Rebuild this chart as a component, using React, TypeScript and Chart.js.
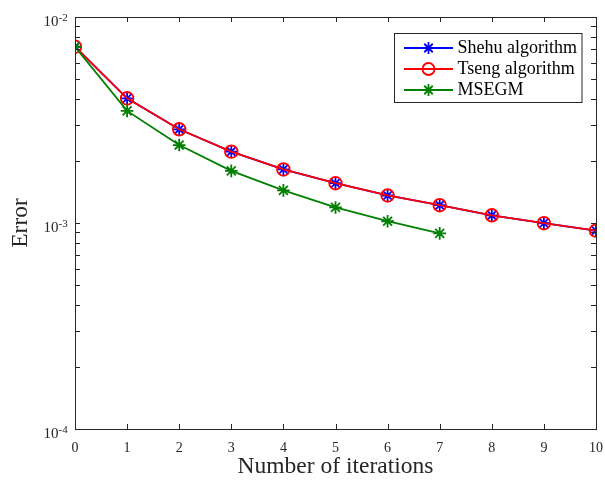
import React, { useEffect, useRef } from 'react';
import { Chart, registerables } from 'chart.js';

Chart.register(...registerables);

// ---- data ----
const iterations = [0, 1, 2, 3, 4, 5, 6, 7, 8, 9, 10];
const msegmIterations = [0, 1, 2, 3, 4, 5, 6, 7];
const shehuErrors = [0.00717, 0.00403, 0.00285, 0.00222, 0.00182, 0.00156, 0.00136, 0.00122, 0.00109, 0.000998, 0.000918];
const tsengErrors = [0.00717, 0.00403, 0.00285, 0.00222, 0.00182, 0.00156, 0.00136, 0.00122, 0.00109, 0.000998, 0.000918];
const msegmErrors = [0.00717, 0.0035, 0.00239, 0.00179, 0.00144, 0.00119, 0.00102, 0.000891];
const xTickValues = [0, 1, 2, 3, 4, 5, 6, 7, 8, 9, 10];
const yMajorExponents = [-2, -3, -4];
const seriesLabels = ['Shehu algorithm', 'Tseng algorithm', 'MSEGM'];
const seriesColors = ['#0000ff', '#ff0000', '#008000'];
const seriesMarkers = ['star', 'circle', 'star'];
const seriesOrder = [3, 2, 1];
const xTitle = 'Number of iterations';
const yTitle = 'Error';

const AXIS_COLOR = '#262626';
const FONT = '"Liberation Serif", "Times New Roman", serif';
const LINE_W = 1.8;

function drawMarker(ctx: CanvasRenderingContext2D, style: string, x: number, y: number, r: number, color: string) {
  ctx.save();
  ctx.strokeStyle = color;
  ctx.lineWidth = LINE_W;
  ctx.beginPath();
  if (style === 'circle') {
    ctx.arc(x, y, r, 0, Math.PI * 2);
  } else {
    ctx.moveTo(x, y - r); ctx.lineTo(x, y + r);
    ctx.moveTo(x - r, y); ctx.lineTo(x + r, y);
    const d = r * Math.SQRT1_2;
    ctx.moveTo(x - d, y - d); ctx.lineTo(x + d, y + d);
    ctx.moveTo(x - d, y + d); ctx.lineTo(x + d, y - d);
  }
  ctx.stroke();
  ctx.restore();
}

const framePlugin = {
  id: 'matlabFrame',
  afterDraw(chart: any) {
    const { ctx, chartArea, scales } = chart;
    const { left, right, top, bottom } = chartArea;
    const xs = scales.x;
    const ys = scales.y;
    ctx.save();
    ctx.strokeStyle = AXIS_COLOR;
    ctx.lineWidth = 1;
    ctx.strokeRect(Math.round(left) + 0.5, Math.round(top) + 0.5, Math.round(right - left), Math.round(bottom - top));
    const tl = 5;
    ctx.beginPath();
    for (const v of xTickValues) {
      const px = Math.round(xs.getPixelForValue(v)) + 0.5;
      ctx.moveTo(px, bottom); ctx.lineTo(px, bottom - tl);
      ctx.moveTo(px, top); ctx.lineTo(px, top + tl);
    }
    const minE = Math.min(...yMajorExponents);
    const maxE = Math.max(...yMajorExponents);
    for (let e = minE; e <= maxE; e++) {
      const kMax = e === maxE ? 1 : 9;
      for (let k = 1; k <= kMax; k++) {
        const py = Math.round(ys.getPixelForValue(k * Math.pow(10, e))) + 0.5;
        ctx.moveTo(left, py); ctx.lineTo(left + tl, py);
        ctx.moveTo(right, py); ctx.lineTo(right - tl, py);
      }
    }
    ctx.stroke();

    // y labels 10^e
    ctx.fillStyle = AXIS_COLOR;
    for (const e of yMajorExponents) {
      const py = ys.getPixelForValue(Math.pow(10, e));
      const xr = left - 16.5;
      ctx.font = `15px ${FONT}`;
      ctx.textAlign = 'right';
      ctx.textBaseline = 'alphabetic';
      ctx.fillText('10', xr, py + 9);
      ctx.font = `11px ${FONT}`;
      ctx.textAlign = 'left';
      ctx.fillText(String(e), xr, py + 4);
    }

    // legend
    const bw = 187.5, bh = 69;
    const bx = Math.round(right - 15 - bw) + 0.5;
    const by = Math.round(top + 16) + 0.5;
    ctx.fillStyle = '#ffffff';
    ctx.fillRect(bx, by, bw, bh);
    ctx.strokeStyle = AXIS_COLOR;
    ctx.lineWidth = 1;
    ctx.strokeRect(bx, by, bw, bh);
    chart.data.datasets.forEach((ds: any, i: number) => {
      const ry = by + 14.5 + i * 21;
      const x0 = bx + 9.5, x1 = bx + 58.5;
      ctx.strokeStyle = ds.borderColor;
      ctx.lineWidth = LINE_W;
      ctx.beginPath();
      ctx.moveTo(x0, ry); ctx.lineTo(x1, ry);
      ctx.stroke();
      drawMarker(ctx, ds.pointStyle, (x0 + x1) / 2, ry, 6, ds.borderColor);
      ctx.fillStyle = '#000000';
      ctx.font = `18px ${FONT}`;
      ctx.textAlign = 'left';
      ctx.textBaseline = 'middle';
      ctx.fillText(ds.label, x1 + 4.5, ry);
    });
    ctx.restore();
  },
};

export default function App() {
  const canvasRef = useRef<HTMLCanvasElement | null>(null);

  useEffect(() => {
    if (!canvasRef.current) return;
    const mk = (xsArr: number[], ysArr: number[]) => xsArr.map((x, i) => ({ x, y: ysArr[i] }));
    const seriesData = [mk(iterations, shehuErrors), mk(iterations, tsengErrors), mk(msegmIterations, msegmErrors)];
    const chart = new Chart(canvasRef.current, {
      type: 'line',
      data: {
        datasets: seriesLabels.map((label, i) => ({
          label,
          data: seriesData[i],
          order: seriesOrder[i],
          borderColor: seriesColors[i],
          backgroundColor: seriesColors[i],
          borderWidth: LINE_W,
          pointStyle: seriesMarkers[i] as any,
          pointRadius: 6.3,
          pointBorderWidth: LINE_W,
          pointBorderColor: seriesColors[i],
          pointBackgroundColor: 'rgba(0,0,0,0)',
          tension: 0,
          fill: false,
        })),
      },
      options: {
        animation: false,
        responsive: false,
        layout: { padding: { left: 0, right: 9, top: 17, bottom: 0 } },
        plugins: { legend: { display: false }, tooltip: { enabled: false } },
        scales: {
          x: {
            type: 'linear',
            min: 0,
            max: 10,
            grid: { display: false, drawTicks: false },
            border: { display: false },
            ticks: {
              stepSize: 1,
              autoSkip: false,
              maxRotation: 0,
              padding: 11,
              color: AXIS_COLOR,
              font: { family: FONT, size: 14 },
            },
            title: {
              display: true,
              text: xTitle,
              color: AXIS_COLOR,
              font: { family: FONT, size: 23.5 },
              padding: { top: 0, bottom: 1 },
            },
            afterFit: (scale: any) => {
              scale.height = 53;
              scale.paddingLeft = 0;
              scale.paddingRight = 0;
            },
          },
          y: {
            type: 'logarithmic',
            min: 1e-4,
            max: 1e-2,
            grid: { display: false, drawTicks: false },
            border: { display: false },
            ticks: { display: false },
            title: {
              display: true,
              text: yTitle,
              color: AXIS_COLOR,
              font: { family: FONT, size: 23.5 },
              padding: { top: 7, bottom: 0 },
            },
            afterFit: (scale: any) => {
              scale.width = 75;
              scale.paddingTop = 0;
              scale.paddingBottom = 0;
            },
          },
        },
      },
      plugins: [framePlugin],
    } as any);
    return () => chart.destroy();
  }, []);

  return (
    <div style={{ position: 'absolute', left: 0, top: 0, width: 605, height: 482, background: '#ffffff' }}>
      <canvas ref={canvasRef} width={605} height={482} style={{ display: 'block' }} />
    </div>
  );
}
